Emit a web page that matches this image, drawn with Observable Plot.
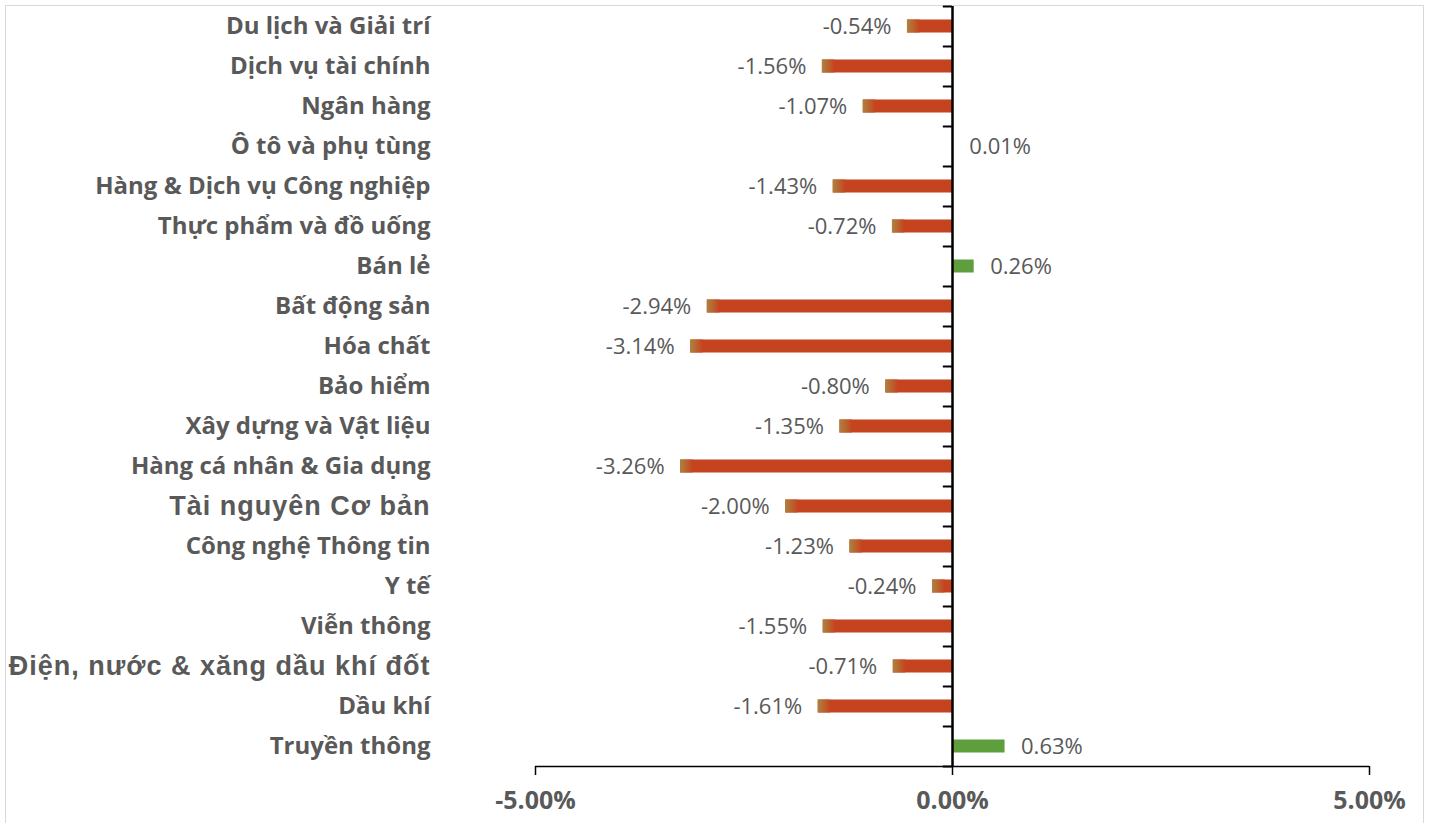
<!DOCTYPE html>
<html>
<head>
<meta charset="utf-8">
<script src="https://cdn.jsdelivr.net/npm/d3@7"></script>
<script src="https://cdn.jsdelivr.net/npm/@observablehq/plot@0.6"></script>
<style>
  body { margin: 0; background: #fff; }
  #wrap { position: relative; width: 1432px; height: 823px; overflow: hidden; }
  #border { position: absolute; left: 5px; top: 5px; width: 1419px; height: 840px; border: 1.5px solid #d9d9d9; box-sizing: border-box; }
  #chart { position: absolute; left: 0; top: 0; }
</style>
</head>
<body>
<div id="wrap"><div id="border"></div><div id="chart"></div></div>
<script>
const categories = ["Du lịch và Giải trí","Dịch vụ tài chính","Ngân hàng","Ô tô và phụ tùng","Hàng & Dịch vụ Công nghiệp","Thực phẩm và đồ uống","Bán lẻ","Bất động sản","Hóa chất","Bảo hiểm","Xây dựng và Vật liệu","Hàng cá nhân & Gia dụng","Tài nguyên Cơ bản","Công nghệ Thông tin","Y tế","Viễn thông","Điện, nước & xăng dầu khí đốt","Dầu khí","Truyền thông"];
const values = [-0.54,-1.56,-1.07,0.01,-1.43,-0.72,0.26,-2.94,-3.14,-0.80,-1.35,-3.26,-2.00,-1.23,-0.24,-1.55,-0.71,-1.61,0.63];
const xTicks = [-5, 0, 5];
const arialLabels = ["Tài nguyên Cơ bản", "Điện, nước & xăng dầu khí đốt"];

const data = categories.map((c, i) => ({category: c, value: values[i]}));
const neg = data.filter(d => d.value < 0);
const pos = data.filter(d => d.value >= 0);
const last = categories[categories.length - 1];
const fmt = v => v.toFixed(2) + "%";
const labelColor = "#595959";

const plot = Plot.plot({
  width: 1432,
  height: 823,
  marginLeft: 535,
  marginRight: 63,
  marginTop: 6,
  marginBottom: 57,
  x: {domain: [-5, 5], label: null},
  y: {domain: categories, padding: 0, label: null, axis: null},
  style: {background: "transparent"},
  marks: [
    Plot.barX(neg, {y: "category", x1: 0, x2: "value", fill: "#c5441f", insetTop: 13.5, insetBottom: 13.5}),
    Plot.barX(neg, {y: "category", x1: "value", x2: d => d.value + 0.15, fill: "url(#fadeNeg)", insetTop: 13.5, insetBottom: 13.5}),
    Plot.barX(pos, {y: "category", x1: 0, x2: "value", fill: "#5f9e3c", insetTop: 13.5, insetBottom: 13.5}),
    Plot.ruleY(categories, {y: d => d, x1: -0.11, x2: 0, dy: 20, stroke: "#000", strokeWidth: 2}),
    Plot.ruleY([categories[0]], {y: d => d, x1: -0.11, x2: 0, dy: -20, stroke: "#000", strokeWidth: 2}),
    Plot.ruleY([last], {y: d => d, x1: -5, x2: 5, dy: 20, stroke: "#000", strokeWidth: 1.5}),
    Plot.ruleX(xTicks, {x: d => d, y: () => last, insetTop: 30, stroke: "#000", strokeWidth: 1.5}),
    Plot.ruleX([0], {stroke: "#000", strokeWidth: 2.5}),
    Plot.axisX({ticks: xTicks, tickFormat: fmt, tickSize: 9, tickPadding: 16, fontSize: 25, fontWeight: "bold", fontFamily: "Open Sans", stroke: "#000", strokeWidth: 1.5, fill: labelColor, label: null}),
    Plot.text(categories.filter(c => !arialLabels.includes(c)), {y: d => d, x: -5, dx: -105, text: d => d, textAnchor: "end", fontSize: 24, fontWeight: "bold", fontFamily: "Open Sans", fill: labelColor}),
    Plot.text(arialLabels, {y: d => d, x: -5, dx: -105, text: d => d, textAnchor: "end", fontSize: 27, fontWeight: "bold", fontFamily: "Liberation Sans", fill: labelColor}),
    Plot.text(neg, {y: "category", x: "value", dx: -16, text: d => fmt(d.value), textAnchor: "end", fontSize: 22, fontFamily: "Open Sans", fill: labelColor}),
    Plot.text(pos, {y: "category", x: "value", dx: 16, text: d => fmt(d.value), textAnchor: "start", fontSize: 22, fontFamily: "Open Sans", fill: labelColor})
  ]
});

const ns = "http://www.w3.org/2000/svg";
const defs = document.createElementNS(ns, "defs");
defs.innerHTML = `<linearGradient id="fadeNeg" x1="0" x2="1" y1="0" y2="0">
  <stop offset="0" stop-color="#ad8240"/>
  <stop offset="0.5" stop-color="#b9642f"/>
  <stop offset="1" stop-color="#c5441f"/>
</linearGradient>`;
plot.insertBefore(defs, plot.firstChild);
d3.select(plot).selectAll("text").filter(function() { return arialLabels.includes(this.textContent); })
  .style("letter-spacing", "1px");
document.getElementById("chart").appendChild(plot);
</script>
</body>
</html>
